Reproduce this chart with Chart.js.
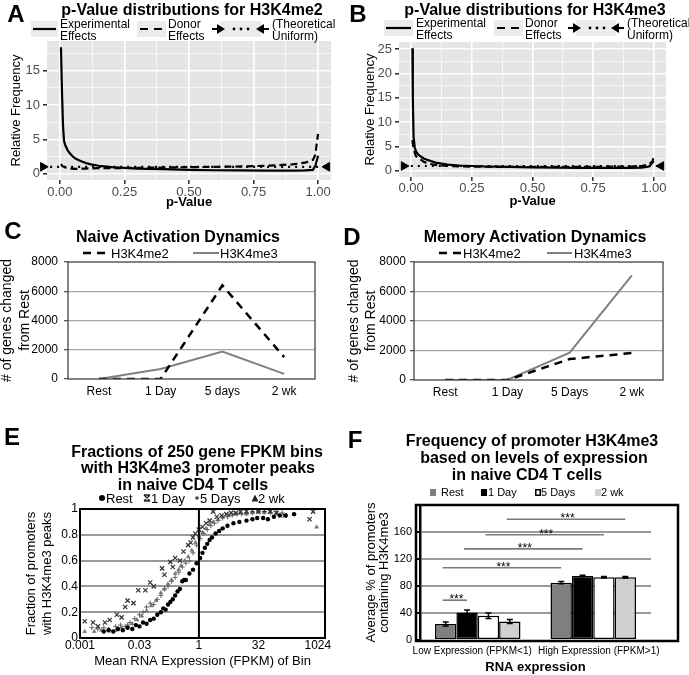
<!DOCTYPE html>
<html>
<head>
<meta charset="utf-8">
<title>H3K4me2 / H3K4me3 dynamics</title>
<script src="https://cdn.jsdelivr.net/npm/chart.js@4.4.1/dist/chart.umd.min.js"></script>
<style>
  body { margin: 0; background: #fff; }
  #fig { position: relative; width: 689px; height: 675px; overflow: hidden;
         font-family: "Liberation Sans", Arial, Helvetica, sans-serif; color: #000; }
  #fig canvas { position: absolute; }
  .lbl { position: absolute; white-space: nowrap; line-height: 1; transform: translate(-50%, -50%); }
  .letter { font-size: 24px; font-weight: bold; }
  .title { font-size: 16px; font-weight: bold; }
  .lg { position: absolute; white-space: nowrap; line-height: 1; transform: translate(0, -50%); font-size: 13px; }
  .lg2 { position: absolute; white-space: nowrap; font-size: 12px; line-height: 12px; }
  .sm { font-size: 11px; }
  #fig svg { position: absolute; overflow: visible; }
</style>
</head>
<body>
<div id="fig">
  <canvas id="cA" width="344" height="212" style="left:0;top:0"></canvas>
  <canvas id="cB" width="345" height="212" style="left:344px;top:0"></canvas>
  <canvas id="cC" width="344" height="185" style="left:0;top:215px"></canvas>
  <canvas id="cD" width="345" height="185" style="left:344px;top:215px"></canvas>
  <canvas id="cE" width="344" height="255" style="left:0;top:420px"></canvas>
  <canvas id="cF" width="345" height="255" style="left:344px;top:420px"></canvas>

  <!-- panel letters -->
  <div class="lbl letter" style="left:16px;top:14px">A</div>
  <div class="lbl letter" style="left:358px;top:14px">B</div>
  <div class="lbl letter" style="left:13px;top:231px">C</div>
  <div class="lbl letter" style="left:352px;top:237px">D</div>
  <div class="lbl letter" style="left:12px;top:437px">E</div>
  <div class="lbl letter" style="left:355px;top:440px">F</div>

  <!-- titles -->
  <div class="lbl title" style="left:192px;top:10px">p-Value distributions for H3K4me2</div>
  <div class="lbl title" style="left:535px;top:10px">p-Value distributions for H3K4me3</div>
  <div class="lbl title" style="left:178px;top:237px">Naive Activation Dynamics</div>
  <div class="lbl title" style="left:535px;top:237px">Memory Activation Dynamics</div>
  <div class="lbl title" style="left:197px;top:452px">Fractions of 250 gene FPKM bins</div>
  <div class="lbl title" style="left:198px;top:468px">with H3K4me3 promoter peaks</div>
  <div class="lbl title" style="left:193px;top:485px">in naive CD4 T cells</div>
  <div class="lbl title" style="left:532px;top:441px">Frequency of promoter H3K4me3</div>
  <div class="lbl title" style="left:534px;top:458px">based on levels of expression</div>
  <div class="lbl title" style="left:527px;top:475px">in naive CD4 T cells</div>

  <!-- A legend -->
  <svg style="left:31px;top:21px" width="27" height="16"><rect width="27" height="16" fill="#ebebeb"/><line x1="2" y1="8" x2="25" y2="8" stroke="#000" stroke-width="2.2"/></svg>
  <div class="lg2" style="left:60px;top:18px">Experimental<br>Effects</div>
  <svg style="left:137px;top:21px" width="29" height="16"><rect width="29" height="16" fill="#ebebeb"/><line x1="3" y1="8" x2="27" y2="8" stroke="#000" stroke-width="2.2" stroke-dasharray="8,6"/></svg>
  <div class="lg2" style="left:168px;top:18px">Donor<br>Effects</div>
  <svg style="left:212px;top:21px" width="57" height="16"><rect x="8" width="41" height="16" fill="#ebebeb"/><line x1="0" y1="8" x2="6" y2="8" stroke="#000" stroke-width="2"/><polygon points="5,3 13,8 5,13" fill="#000"/><circle cx="22" cy="8" r="1.4"/><circle cx="29" cy="8" r="1.4"/><circle cx="36" cy="8" r="1.4"/><polygon points="52,3 44,8 52,13" fill="#000"/><line x1="51" y1="8" x2="57" y2="8" stroke="#000" stroke-width="2"/></svg>
  <div class="lg2" style="left:272px;top:18px">(Theoretical<br>Uniform)</div>

  <!-- B legend -->
  <svg style="left:384px;top:20px" width="29" height="16"><rect width="29" height="16" fill="#ebebeb"/><line x1="2" y1="8" x2="27" y2="8" stroke="#000" stroke-width="2.2"/></svg>
  <div class="lg2" style="left:416px;top:17px">Experimental<br>Effects</div>
  <svg style="left:494px;top:20px" width="29" height="16"><rect width="29" height="16" fill="#ebebeb"/><line x1="3" y1="8" x2="27" y2="8" stroke="#000" stroke-width="2.2" stroke-dasharray="8,6"/></svg>
  <div class="lg2" style="left:525px;top:17px">Donor<br>Effects</div>
  <svg style="left:568px;top:20px" width="56" height="16"><rect x="8" width="40" height="16" fill="#ebebeb"/><line x1="0" y1="8" x2="6" y2="8" stroke="#000" stroke-width="2"/><polygon points="5,3 13,8 5,13" fill="#000"/><circle cx="22" cy="8" r="1.4"/><circle cx="29" cy="8" r="1.4"/><circle cx="36" cy="8" r="1.4"/><polygon points="51,3 43,8 51,13" fill="#000"/><line x1="50" y1="8" x2="56" y2="8" stroke="#000" stroke-width="2"/></svg>
  <div class="lg2" style="left:627px;top:17px">(Theoretical<br>Uniform)</div>

  <!-- C legend -->
  <svg style="left:83px;top:248px" width="26" height="10"><line x1="0" y1="5" x2="26" y2="5" stroke="#000" stroke-width="2.5" stroke-dasharray="8,6"/></svg>
  <div class="lg" style="left:111px;top:253px">H3K4me2</div>
  <svg style="left:193px;top:248px" width="26" height="10"><line x1="0" y1="5" x2="26" y2="5" stroke="#808080" stroke-width="2"/></svg>
  <div class="lg" style="left:220px;top:253px">H3K4me3</div>

  <!-- D legend -->
  <svg style="left:439px;top:248px" width="23" height="10"><line x1="0" y1="5" x2="23" y2="5" stroke="#000" stroke-width="2.5" stroke-dasharray="8,6"/></svg>
  <div class="lg" style="left:463px;top:253px">H3K4me2</div>
  <svg style="left:547px;top:248px" width="25" height="10"><line x1="0" y1="5" x2="25" y2="5" stroke="#808080" stroke-width="2"/></svg>
  <div class="lg" style="left:574px;top:253px">H3K4me3</div>

  <!-- E legend -->
  <svg style="left:98px;top:494px" width="8" height="8"><circle cx="4" cy="4" r="3" fill="#000"/></svg>
  <div class="lg" style="left:106px;top:498px">Rest</div>
  <svg style="left:143px;top:494px" width="8" height="8"><path d="M1,1 L7,7 M7,1 L1,7 M1,1 L7,1 M1,7 L7,7" stroke="#222" stroke-width="1.3" fill="none"/></svg>
  <div class="lg" style="left:151px;top:498px">1 Day</div>
  <svg style="left:194px;top:495px" width="6" height="6"><circle cx="3" cy="3" r="1.8" fill="#444"/></svg>
  <div class="lg" style="left:200px;top:498px">5 Days</div>
  <svg style="left:251px;top:494px" width="8" height="8"><polygon points="4,0.5 7.5,7.5 0.5,7.5" fill="#222"/></svg>
  <div class="lg" style="left:258px;top:498px">2 wk</div>

  <!-- F legend -->
  <svg style="left:430px;top:489px" width="6" height="7"><rect width="6" height="7" fill="#7f7f7f"/></svg>
  <div class="lg sm" style="left:441px;top:492px">Rest</div>
  <svg style="left:481px;top:489px" width="6" height="7"><rect width="6" height="7" fill="#000"/></svg>
  <div class="lg sm" style="left:488px;top:492px">1 Day</div>
  <svg style="left:535px;top:489px" width="6" height="7"><rect x="0.75" y="0.75" width="4.5" height="5.5" fill="#fff" stroke="#000" stroke-width="1.5"/></svg>
  <div class="lg sm" style="left:541px;top:492px">5 Days</div>
  <svg style="left:595px;top:489px" width="6" height="7"><rect width="6" height="7" fill="#d0d0d0"/></svg>
  <div class="lg sm" style="left:601px;top:492px">2 wk</div>
</div>

<script>
// ---------- data ----------
// A: p-value distributions for H3K4me2
const pExpA = [0.004, 0.008, 0.012, 0.016, 0.02, 0.03, 0.04, 0.05, 0.06, 0.08, 0.1, 0.12, 0.15, 0.2, 0.25, 0.3, 0.4, 0.5, 0.6, 0.7, 0.8, 0.9, 0.95, 0.98, 0.99, 1.0];
const expA  = [18.4, 12, 7, 4.8, 4.2, 3.4, 2.9, 2.5, 2.2, 1.85, 1.55, 1.35, 1.15, 0.95, 0.85, 0.75, 0.65, 0.55, 0.5, 0.48, 0.45, 0.45, 0.47, 0.55, 1.2, 2.6];
const pDonA = [0.004, 0.01, 0.02, 0.04, 0.06, 0.1, 0.15, 0.2, 0.3, 0.4, 0.5, 0.6, 0.7, 0.8, 0.9, 0.95, 0.98, 0.99, 0.995, 1.0];
const donA  = [1.4, 1.1, 0.9, 0.75, 0.7, 0.75, 0.8, 0.8, 0.85, 0.9, 0.95, 1.0, 1.05, 1.15, 1.35, 1.6, 2.0, 2.8, 4.5, 5.8];

// B: p-value distributions for H3K4me3
const pExpB = [0.005, 0.007, 0.01, 0.015, 0.02, 0.03, 0.05, 0.07, 0.1, 0.15, 0.2, 0.3, 0.4, 0.5, 0.6, 0.7, 0.8, 0.9, 0.95, 0.98, 1.0];
const expB  = [25.2, 15, 7, 4.8, 4.0, 3.3, 2.6, 2.2, 1.7, 1.3, 1.1, 0.9, 0.8, 0.7, 0.65, 0.6, 0.6, 0.6, 0.65, 0.9, 2.0];
const pDonB = [0.005, 0.01, 0.02, 0.03, 0.04, 0.05, 0.07, 0.1, 0.15, 0.2, 0.3, 0.4, 0.5, 0.6, 0.7, 0.8, 0.9, 0.95, 0.98, 0.995, 1.0];
const donB  = [6.3, 4.5, 3.0, 2.7, 2.3, 1.9, 1.5, 1.2, 1.0, 0.9, 0.85, 0.8, 0.8, 0.8, 0.8, 0.85, 0.9, 1.0, 1.3, 2.0, 3.3];

const uniformLevel = 1;
const pTicks = [0, 0.25, 0.5, 0.75, 1];
const pMinor = [0.125, 0.375, 0.625, 0.875];
const freqTicksA = [0, 5, 10, 15];
const freqMinorA = [2.5, 7.5, 12.5, 17.5];
const freqTicksB = [0, 5, 10, 15, 20, 25];
const freqMinorB = [2.5, 7.5, 12.5, 17.5, 22.5];

// C, D: number of genes changed from rest
const naiveDays  = ['Rest', '1 Day', '5 days', '2 wk'];
const memoryDays = ['Rest', '1 Day', '5 Days', '2 wk'];
const naiveMe2  = [0, 0, 6400, 1500];
const naiveMe3  = [0, 690, 1870, 350];
const memoryMe2 = [0, 0, 1420, 1830];
const memoryMe3 = [0, 0, 1850, 7100];
const geneTicks = [0, 2000, 4000, 6000, 8000];

// E: fraction of promoters with peaks per FPKM bin (x in log2 FPKM)
const fpkmTicks = [-10, -5, 0, 5, 10];
const fpkmTickLabels = ['0.001', '0.03', '1', '32', '1024'];
const fracTicks = [0, 0.2, 0.4, 0.6, 0.8, 1];
const restX = [-8.0, -7.6, -7.2, -6.8, -6.4, -6.0, -5.6, -5.3, -5.0, -4.7, -4.4, -4.1, -3.8, -3.5, -3.2, -3.0, -2.8, -2.6, -2.4, -2.2, -2.0, -1.8, -1.6, -1.4, -1.25, -1.1, -0.8, -0.5, -0.2, 0.1, 0.3, 0.5, 0.7, 0.9, 1.1, 1.4, 1.7, 2.0, 2.4, 2.9, 3.4, 4.0, 4.5, 4.9, 5.4, 5.8, 6.3, 6.8, 7.3, 8.0];
const restY = [0.05, 0.06, 0.05, 0.07, 0.06, 0.08, 0.07, 0.10, 0.09, 0.12, 0.11, 0.14, 0.15, 0.18, 0.20, 0.23, 0.22, 0.26, 0.28, 0.30, 0.33, 0.36, 0.38, 0.44, 0.45, 0.45, 0.50, 0.53, 0.58, 0.62, 0.66, 0.70, 0.73, 0.76, 0.78, 0.81, 0.83, 0.85, 0.87, 0.89, 0.90, 0.91, 0.92, 0.93, 0.93, 0.92, 0.94, 0.95, 0.95, 0.96];
const day1X = [-9.6, -8.9, -8.5, -7.9, -7.5, -6.9, -6.5, -6.2, -6.0, -5.5, -5.1, -4.5, -4.1, -3.8, -3.1, -2.9, -2.4, -2.2, -2.0, -1.6, -1.3, -0.9, -0.7, -0.5, -0.3, 0.0, 0.3, 0.6, 0.9, 1.2, 1.5, 1.9, 2.3, 2.7, 3.1, 3.5, 4.0, 4.5, 5.0, 5.5, 6.0, 6.5, 7.2, 9.3, 9.6];
const day1Y = [0.13, 0.12, 0.09, 0.12, 0.14, 0.18, 0.16, 0.24, 0.29, 0.27, 0.37, 0.37, 0.43, 0.40, 0.54, 0.49, 0.59, 0.55, 0.62, 0.60, 0.67, 0.72, 0.74, 0.78, 0.81, 0.84, 0.86, 0.89, 0.91, 0.98, 0.94, 0.95, 0.96, 0.97, 0.97, 0.98, 0.98, 0.99, 0.98, 0.99, 0.98, 0.97, 0.95, 0.92, 0.98];
const day5X = [-9.0, -8.5, -8.0, -7.5, -7.0, -6.6, -6.2, -5.8, -5.4, -5.0, -4.7, -4.4, -4.1, -3.8, -3.5, -3.2, -2.9, -2.6, -2.3, -2.0, -1.7, -1.4, -1.1, -0.8, -0.5, -0.2, 0.1, 0.4, 0.7, 1.0, 1.3, 1.6, 2.0, 2.4, 2.8, 3.2, 3.6, 4.0, 4.5, 5.0, 5.5, 6.0, 6.5, 7.0];
const day5Y = [0.08, 0.07, 0.08, 0.06, 0.09, 0.10, 0.09, 0.12, 0.15, 0.18, 0.20, 0.24, 0.27, 0.26, 0.30, 0.33, 0.38, 0.40, 0.44, 0.47, 0.51, 0.55, 0.58, 0.60, 0.66, 0.72, 0.77, 0.81, 0.84, 0.87, 0.89, 0.91, 0.93, 0.94, 0.95, 0.96, 0.96, 0.97, 0.97, 0.98, 0.98, 0.97, 0.98, 0.97];
const wk2X = [-9.6, -8.8, -8.2, -7.6, -7.0, -6.5, -6.0, -5.6, -5.2, -4.8, -4.4, -4.0, -3.6, -3.2, -2.9, -2.6, -2.3, -2.0, -1.7, -1.5, -1.2, -0.9, -0.6, -0.3, 0.0, 0.3, 0.6, 0.9, 1.2, 1.6, 2.0, 2.5, 3.0, 3.5, 4.0, 4.5, 5.0, 5.5, 6.0, 6.6, 9.9];
const wk2Y = [0.05, 0.05, 0.06, 0.07, 0.06, 0.08, 0.10, 0.11, 0.14, 0.17, 0.21, 0.25, 0.29, 0.35, 0.38, 0.42, 0.45, 0.50, 0.53, 0.56, 0.60, 0.63, 0.68, 0.74, 0.79, 0.82, 0.85, 0.88, 0.90, 0.92, 0.94, 0.95, 0.96, 0.97, 0.96, 0.97, 0.98, 0.97, 0.98, 0.96, 0.86];

// F: average % of promoters containing H3K4me3
const exprGroups = ['Low Expression (FPKM<1)', 'High Expression (FPKM>1)'];
const pctRest = [23.7, 85];
const pctDay1 = [40.8, 95];
const pctDay5 = [36, 93];
const pctWk2  = [27.5, 93];
const errRest = [3, 1.5];
const errDay1 = [3.5, 1];
const errDay5 = [4, 1.2];
const errWk2  = [3, 1.2];
const pctTicks = [0, 40, 80, 120, 160];
const sigFrom = [[0, 0], [0, 0], [1, 0], [2, 0], [3, 0]];
const sigTo   = [[1, 0], [0, 1], [1, 1], [2, 1], [3, 1]];
const sigLevel = [59, 107, 135, 156, 179];
const sigMark = '***';

// ---------- helpers / plugins ----------
const FONT = '"Liberation Sans", Arial, Helvetica, sans-serif';
Chart.defaults.font.family = FONT;
Chart.defaults.color = '#000';
Chart.defaults.animation = false;
Chart.defaults.plugins.legend.display = false;
Chart.defaults.plugins.tooltip.enabled = false;

const xy = (xs, ys) => xs.map((x, i) => ({ x: x, y: ys[i] }));
const setTicks = vals => s => { s.ticks = vals.map(v => ({ value: v })); };

const ggBack = {
  id: 'ggBack',
  beforeDraw(chart, args, opts) {
    if (!opts.color) return;
    const { ctx, chartArea: a } = chart;
    ctx.save();
    ctx.fillStyle = opts.color;
    ctx.fillRect(a.left, a.top, a.right - a.left, a.bottom - a.top);
    ctx.restore();
  }
};

const frame = {
  id: 'frame',
  afterDatasetsDraw(chart, args, opts) {
    if (!opts.color) return;
    const { ctx, chartArea: a } = chart;
    const p = opts.pad || [0, 0, 0, 0];
    ctx.save();
    ctx.strokeStyle = opts.color;
    ctx.lineWidth = opts.width || 1;
    ctx.strokeRect(a.left - p[0], a.top - p[1], a.right - a.left + p[0] + p[2], a.bottom - a.top + p[1] + p[3]);
    ctx.restore();
  }
};

const crossLine = {
  id: 'crossLine',
  afterDatasetsDraw(chart, args, opts) {
    if (opts.at === undefined) return;
    const { ctx, chartArea: a, scales } = chart;
    const px = scales.x.getPixelForValue(opts.at);
    ctx.save();
    ctx.strokeStyle = '#000';
    ctx.lineWidth = 2;
    ctx.beginPath();
    ctx.moveTo(px, a.top);
    ctx.lineTo(px, a.bottom);
    ctx.stroke();
    ctx.restore();
  }
};

const barExtras = {
  id: 'barExtras',
  afterDatasetsDraw(chart, args, opts) {
    if (!opts.errors) return;
    const { ctx, scales: { y } } = chart;
    ctx.save();
    ctx.strokeStyle = '#000';
    ctx.lineWidth = 1.5;
    chart.data.datasets.forEach((ds, i) => {
      chart.getDatasetMeta(i).data.forEach((bar, j) => {
        const v = ds.data[j], e = opts.errors[i][j];
        const t = y.getPixelForValue(v + e), b = y.getPixelForValue(v - e);
        ctx.beginPath();
        ctx.moveTo(bar.x, t); ctx.lineTo(bar.x, b);
        ctx.moveTo(bar.x - 3, t); ctx.lineTo(bar.x + 3, t);
        ctx.moveTo(bar.x - 3, b); ctx.lineTo(bar.x + 3, b);
        ctx.stroke();
      });
    });
    ctx.strokeStyle = '#7a7a7a';
    ctx.lineWidth = 1.6;
    ctx.fillStyle = '#000';
    ctx.font = '12px ' + FONT;
    ctx.textAlign = 'center';
    ctx.textBaseline = 'alphabetic';
    opts.from.forEach((f, k) => {
      const a = chart.getDatasetMeta(f[0]).data[f[1]];
      const b = chart.getDatasetMeta(opts.to[k][0]).data[opts.to[k][1]];
      const py = y.getPixelForValue(opts.level[k]);
      ctx.beginPath();
      ctx.moveTo(a.x - 3, py);
      ctx.lineTo(b.x, py);
      ctx.stroke();
      ctx.fillText(opts.mark, (a.x + b.x) / 2, py + 3);
    });
    ctx.restore();
  }
};

Chart.register(ggBack, frame, crossLine, barExtras);

// ---------- A, B ----------
function pvalueChart(id, exp, don, yMin, yMax, major, minor, g) {
  const xAll = pTicks.concat(pMinor).sort((a, b) => a - b);
  const yAll = major.concat(minor).sort((a, b) => a - b);
  const isMajX = c => c.tick && pTicks.includes(c.tick.value);
  const isMajY = c => c.tick && major.includes(c.tick.value);
  return new Chart(document.getElementById(id), {
    type: 'line',
    data: {
      datasets: [
        { label: 'Experimental Effects', data: exp, borderColor: '#000', borderWidth: 2.2, pointRadius: 0 },
        { label: 'Donor Effects', data: don, borderColor: '#000', borderWidth: 2.2, borderDash: [7, 4], pointRadius: 0 },
        { label: '(Theoretical Uniform)', data: [{ x: g.arrows[0], y: uniformLevel }, { x: g.arrows[1], y: uniformLevel }],
          borderColor: '#000', borderWidth: 2.2, borderDash: [2, 5], clip: false,
          pointStyle: 'triangle', pointRadius: 5, pointRotation: [90, 270],
          pointBackgroundColor: '#000', pointBorderColor: '#000', pointBorderWidth: 1 }
      ]
    },
    options: {
      responsive: false,
      devicePixelRatio: 1,
      layout: { padding: { left: 0, right: g.padRight, top: g.padTop, bottom: 0 } },
      scales: {
        x: {
          type: 'linear', min: -0.05, max: 1.05,
          afterBuildTicks: setTicks(xAll),
          afterFit: s => { s.height = g.xHeight; },
          ticks: { autoSkip: false, maxRotation: 0, padding: g.xPad, color: '#4d4d4d', font: { size: 13 },
                   callback: v => pTicks.includes(v) ? v.toFixed(2) : '' },
          grid: { color: '#fff', lineWidth: c => isMajX(c) ? 1.6 : 0.7, tickLength: 4,
                  tickColor: c => isMajX(c) ? '#333' : 'rgba(0,0,0,0)' },
          border: { display: false },
          title: { display: true, text: 'p-Value', font: { size: 13, weight: 'bold' }, padding: { top: 0, bottom: g.xTitlePad } }
        },
        y: {
          type: 'linear', min: yMin, max: yMax,
          afterBuildTicks: setTicks(yAll),
          afterFit: s => { s.width = g.yWidth; },
          ticks: { autoSkip: false, padding: 3, color: '#4d4d4d', font: { size: 13 },
                   callback: v => major.includes(v) ? String(v) : '' },
          grid: { color: '#fff', lineWidth: c => isMajY(c) ? 1.6 : 0.7, tickLength: 4,
                  tickColor: c => isMajY(c) ? '#333' : 'rgba(0,0,0,0)' },
          border: { display: false },
          title: { display: true, text: 'Relative Frequency', font: { size: 13 }, padding: { top: g.yTitlePad, bottom: 0 } }
        }
      },
      plugins: { ggBack: { color: '#e5e5e5' } }
    }
  });
}

pvalueChart('cA', xy(pExpA, expA), xy(pDonA, donA), -0.92, 19.32, freqTicksA, freqMinorA,
  { padRight: 13, padTop: 41, xHeight: 32, yWidth: 47, xPad: 1, xTitlePad: 2, yTitlePad: 9, arrows: [-0.065, 1.035] });
pvalueChart('cB', xy(pExpB, expB), xy(pDonB, donB), -1.26, 26.46, freqTicksB, freqMinorB,
  { padRight: 23, padTop: 42, xHeight: 35, yWidth: 55, xPad: 0, xTitlePad: 2.5, yTitlePad: 19, arrows: [-0.03, 1.03] });

// ---------- C, D ----------
function activationChart(id, days, me2, me3, g) {
  return new Chart(document.getElementById(id), {
    type: 'line',
    data: {
      labels: days,
      datasets: [
        { label: 'H3K4me2', data: me2, borderColor: '#000', borderWidth: 2.5, borderDash: [8, 6], pointRadius: 0 },
        { label: 'H3K4me3', data: me3, borderColor: '#808080', borderWidth: 2, pointRadius: 0 }
      ]
    },
    options: {
      responsive: false,
      devicePixelRatio: 1,
      layout: { padding: { left: 0, right: g.padRight, top: 47, bottom: 0 } },
      scales: {
        x: {
          type: 'category', offset: true,
          afterFit: s => { s.height = g.xHeight; },
          ticks: { font: { size: 12 }, padding: 5, autoSkip: false, maxRotation: 0 },
          grid: { display: false, drawTicks: false },
          border: { display: false }
        },
        y: {
          min: 0, max: 8000,
          afterBuildTicks: setTicks(geneTicks),
          afterFit: s => { s.width = g.yWidth; },
          ticks: { font: { size: 12 }, padding: g.yPad, callback: v => String(v) },
          grid: { color: c => (c.tick && c.tick.value > 0 && c.tick.value < 8000) ? '#a6a6a6' : 'rgba(0,0,0,0)',
                  lineWidth: 1.3, tickLength: 4, tickColor: '#555' },
          border: { display: false },
          title: { display: true, text: ['# of genes changed', 'from Rest'], font: { size: 14, lineHeight: g.yTitleLh },
                   padding: { top: g.yTitlePad, bottom: 0 } }
        }
      },
      plugins: { frame: { color: '#444', width: 1.3 } }
    }
  });
}

activationChart('cC', naiveDays, naiveMe2, naiveMe3, { padRight: 29, xHeight: 21, yWidth: 68, yPad: 6, yTitleLh: 1.3, yTitlePad: -2 });
activationChart('cD', memoryDays, memoryMe2, memoryMe3, { padRight: 26, xHeight: 20, yWidth: 70, yPad: 4, yTitleLh: 1.2, yTitlePad: 1.5 });

// ---------- E ----------
new Chart(document.getElementById('cE'), {
  type: 'scatter',
  data: {
    datasets: [
      { label: 'Rest', data: xy(restX, restY), pointStyle: 'circle', pointRadius: 2.2,
        pointBackgroundColor: '#000', pointBorderColor: '#000', pointBorderWidth: 0 },
      { label: '1 Day', data: xy(day1X, day1Y), pointStyle: 'crossRot', pointRadius: 3,
        pointBorderColor: '#333', pointBorderWidth: 1.2 },
      { label: '5 Days', data: xy(day5X, day5Y), pointStyle: 'cross', pointRadius: 2.5,
        pointBorderColor: '#666', pointBorderWidth: 1 },
      { label: '2 wk', data: xy(wk2X, wk2Y), pointStyle: 'triangle', pointRadius: 2.3,
        pointBackgroundColor: '#777', pointBorderColor: '#777', pointBorderWidth: 0.5 }
    ]
  },
  options: {
    responsive: false,
    devicePixelRatio: 1,
    layout: { padding: { left: 0, right: 19, top: 89, bottom: 0 } },
    scales: {
      x: {
        type: 'linear', min: -10, max: 10.6,
        afterBuildTicks: setTicks(fpkmTicks),
        afterFit: s => { s.height = 37; },
        ticks: { font: { size: 12 }, padding: 0, autoSkip: false, maxRotation: 0,
                 callback: v => fpkmTickLabels[fpkmTicks.indexOf(v)] },
        grid: { display: false, drawTicks: false },
        border: { display: false },
        title: { display: true, text: 'Mean RNA Expression (FPKM) of Bin', font: { size: 13 }, padding: { top: 0, bottom: 6 } }
      },
      y: {
        min: 0, max: 1,
        afterBuildTicks: setTicks(fracTicks),
        afterFit: s => { s.width = 80; },
        ticks: { font: { size: 12 }, padding: 2, callback: v => String(v) },
        grid: { color: c => (c.tick && c.tick.value > 0 && c.tick.value < 1) ? '#999' : 'rgba(0,0,0,0)',
                lineWidth: 2, drawTicks: false },
        border: { display: false },
        title: { display: true, text: ['Fraction of promoters', 'with H3K4me3 peaks'], font: { size: 13, lineHeight: 1.2 },
                 padding: { top: 24, bottom: 0 } }
      }
    },
    plugins: { frame: { color: '#000', width: 2 }, crossLine: { at: 0 } }
  }
});

// ---------- F ----------
new Chart(document.getElementById('cF'), {
  type: 'bar',
  data: {
    labels: exprGroups,
    datasets: [
      { label: 'Rest', data: pctRest, backgroundColor: '#7f7f7f' },
      { label: '1 Day', data: pctDay1, backgroundColor: '#000' },
      { label: '5 Days', data: pctDay5, backgroundColor: '#fff' },
      { label: '2 wk', data: pctWk2, backgroundColor: '#d0d0d0' }
    ]
  },
  options: {
    responsive: false,
    devicePixelRatio: 1,
    layout: { padding: { left: 0, right: 38, top: 85, bottom: 0 } },
    datasets: { bar: { borderColor: '#000', borderWidth: 1.5, borderSkipped: false, categoryPercentage: 0.74, barPercentage: 1 } },
    scales: {
      x: {
        afterFit: s => { s.height = 35; },
        ticks: { font: { size: 10 }, padding: 5, autoSkip: false, maxRotation: 0,
                 callback: (v, i) => i === 0 ? exprGroups[i] + '    ' : '    ' + exprGroups[i] },
        grid: { display: false, drawTicks: false },
        border: { display: false },
        title: { display: true, text: 'RNA expression', font: { size: 13, weight: 'bold' }, padding: { top: 0, bottom: 0 } }
      },
      y: {
        min: 0, max: 200,
        afterBuildTicks: setTicks(pctTicks),
        afterFit: s => { s.width = 76; },
        ticks: { font: { size: 11 }, padding: 4, callback: v => String(v) },
        grid: { color: c => (c.tick && c.tick.value > 0) ? '#9a9a9a' : 'rgba(0,0,0,0)', lineWidth: 2,
                tickLength: 4, tickColor: '#000' },
        border: { display: true, color: '#000', width: 2.5 },
        title: { display: true, text: ['Average % of promoters', 'containing H3K4me3'], font: { size: 13, lineHeight: 1.02 },
                 padding: { top: 21, bottom: 0 } }
      }
    },
    plugins: {
      frame: { color: '#000', width: 2.5, pad: [4, 0, 27, 1] },
      barExtras: { errors: [errRest, errDay1, errDay5, errWk2], from: sigFrom, to: sigTo, level: sigLevel, mark: sigMark }
    }
  }
});
</script>
</body>
</html>
